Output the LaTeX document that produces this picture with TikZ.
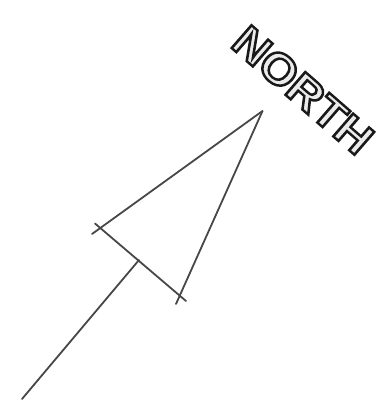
\documentclass[tikz,border=0pt]{standalone}
\usepackage{fontspec}
\setmainfont{Liberation Sans}
\newcommand{\outlinetext}[1]{\textcolor{black!8}{\special{pdf:literal direct 2 Tr 2.4 w 0.1 G}#1\special{pdf:literal direct 0 Tr}}}
\begin{document}
\begin{tikzpicture}[x=1pt,y=-1pt,
  edge/.style={draw=black!72,line width=1.8pt,line cap=round},
  label/.style={inner sep=0pt,font=\bfseries\fontsize{44}{44}\selectfont}]
\useasboundingbox (0,0) rectangle (381,405);
% triangle points
\coordinate (apex) at (261,114);
\coordinate (apexx) at (262.5,111);
\coordinate (bl) at (100,228);
\coordinate (blx) at (92,234);
\coordinate (ble) at (95,223.5);
\coordinate (br) at (180,297);
\coordinate (brx) at (176,304);
\coordinate (bre) at (186,301);
\coordinate (mid) at (139,260);
\coordinate (tail) at (22,399);
\draw[edge] (apexx) -- (blx);
\draw[edge] (apexx) -- (brx);
\draw[edge] (ble) -- (bre);
\draw[edge] (mid) -- (tail);
\node[label,rotate=-41,xscale=1.08] (north) at (303,90)
  {\outlinetext{NORTH}};
\end{tikzpicture}
\end{document}
